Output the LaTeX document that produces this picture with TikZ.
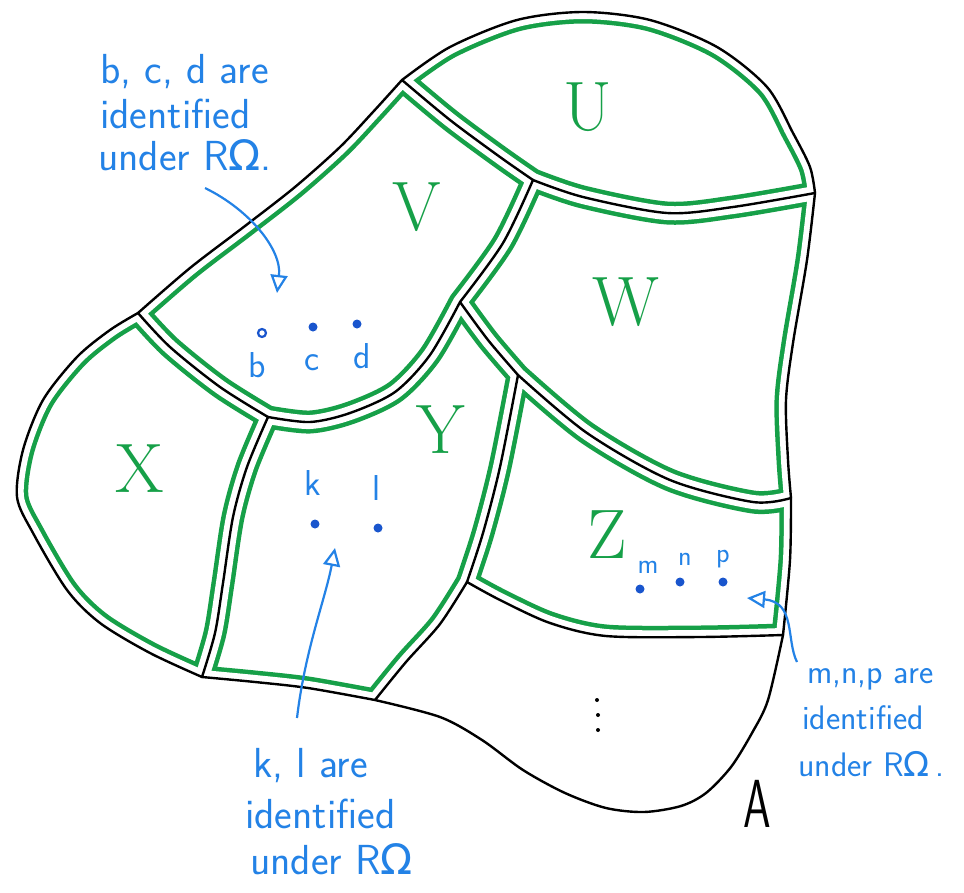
\documentclass[tikz,border=0pt]{standalone}
\usepackage{fontspec}
\newfontfamily\omf{DejaVu Sans}
\usetikzlibrary{arrows.meta}
\definecolor{mkgreen}{RGB}{22,160,72}
\definecolor{mkblue}{RGB}{35,130,230}
\definecolor{dotblue}{RGB}{25,85,205}
\def\sgTop{(402,80) (450,47) (517,20) (583,12) (650,20) (717,47) (767,87) (793,133) (810,167) (815,193)}
\def\sgRa{(815,193) (807,260) (793,343) (786,400) (788,460) (791,498)}
\def\sgRb{(791,498) (790,560) (783,635)}
\def\sgRc{(783,635) (768,700) (752,733) (731,767) (706,793) (681,806) (644,812) (606,808) (565,793) (523,770) (482,740) (440,717) (375,700)}
\def\sgBot{(375,700) (308,688) (255,682) (202,677)}
\def\sgLeft{(202,677) (150,653) (100,623) (67,590) (33,533) (17,497) (23,450) (43,400) (77,357) (110,330) (138,313)}
\def\sgUL{(138,313) (190,268) (245,226) (295,187) (340,147) (373,112) (402,80)}
\def\sgUV{(402,80) (450,120) (500,157) (533,180)}
\def\sgUVr{(533,180) (500,157) (450,120) (402,80)}
\def\sgUW{(533,180) (583,197) (667,213) (733,207) (815,193)}
\def\sgUWr{(815,193) (733,207) (667,213) (583,197) (533,180)}
\def\sgVW{(533,180) (503,243) (460,302)}
\def\sgVWr{(460,302) (503,243) (533,180)}
\def\sgVY{(460,302) (430,355) (395,392) (350,413) (310,422) (268,417)}
\def\sgVYr{(268,417) (310,422) (350,413) (395,392) (430,355) (460,302)}
\def\sgVX{(268,417) (220,387) (170,347) (138,313)}
\def\sgVXr{(138,313) (170,347) (220,387) (268,417)}
\def\sgWY{(460,302) (488,340) (518,375)}
\def\sgWYr{(518,375) (488,340) (460,302)}
\def\sgWZ{(518,375) (587,433) (670,480) (753,502) (791,498)}
\def\sgWZr{(791,498) (753,502) (670,480) (587,433) (518,375)}
\def\sgYZ{(518,375) (500,467) (483,533) (467,582)}
\def\sgYZr{(467,582) (483,533) (500,467) (518,375)}
\def\sgYb{(467,582) (440,624) (406,662) (375,700)}
\def\sgZb{(467,582) (500,600) (550,623) (606,636) (700,637) (783,635)}
\def\sgZbr{(783,635) (700,637) (606,636) (550,623) (500,600) (467,582)}
\def\sgXY{(268,417) (247,467) (233,517) (223,583) (215,633) (202,677)}
\def\sgXYr{(202,677) (215,633) (223,583) (233,517) (247,467) (268,417)}
\def\pl#1{plot[smooth] coordinates{#1}}
\edef\rgU{\pl{\sgTop} -- \pl{\sgUWr} -- \pl{\sgUVr} -- cycle}
\edef\rgV{\pl{\sgUV} -- \pl{\sgVW} -- \pl{\sgVY} -- \pl{\sgVX} -- \pl{\sgUL} -- cycle}
\edef\rgW{\pl{\sgUW} -- \pl{\sgRa} -- \pl{\sgWZr} -- \pl{\sgWYr} -- \pl{\sgVWr} -- cycle}
\edef\rgX{\pl{\sgVXr} -- \pl{\sgXY} -- \pl{\sgLeft} -- cycle}
\edef\rgY{\pl{\sgVYr} -- \pl{\sgWY} -- \pl{\sgYZ} -- \pl{\sgYb} -- \pl{\sgBot} -- \pl{\sgXYr} -- cycle}
\edef\rgZ{\pl{\sgWZ} -- \pl{\sgRb} -- \pl{\sgZbr} -- \pl{\sgYZr} -- cycle}
\newcommand\greenband[1]{\begin{scope}\clip #1; \draw[gband] #1; \draw[wband] #1;\end{scope}}
\begin{document}
\begin{tikzpicture}[x=1pt,y=-1pt,
  gband/.style={draw=mkgreen,line width=23pt,line join=round},
  wband/.style={draw=white,line width=14pt,line join=round},
  blk/.style={draw=black,line width=2.4pt,line cap=round,line join=round},
  reg/.style={text=mkgreen,font=\fontsize{70}{70}\selectfont,inner sep=0pt},
  ann/.style={text=mkblue,font=\sffamily\fontsize{42}{48}\selectfont,inner sep=0pt,anchor=base west},
  annsm/.style={text=mkblue,font=\sffamily\fontsize{34}{40}\selectfont,inner sep=0pt,anchor=base west},
  lbl/.style={text=mkblue,font=\sffamily\fontsize{36}{40}\selectfont,inner sep=0pt,anchor=base},
  lblsm/.style={text=mkblue,font=\sffamily\fontsize{28}{30}\selectfont,inner sep=0pt,anchor=base},
  pt/.style={circle,fill=dotblue,inner sep=0pt,minimum size=9pt},
  ptopen/.style={circle,draw=dotblue,line width=2.2pt,inner sep=0pt,minimum size=8pt},
  arr/.style={draw=mkblue,line width=2.2pt,-{Triangle[open,length=18pt,width=17pt,line width=2.2pt]}}]
\fill[white] (0,0) rectangle (964,892);
\useasboundingbox (0,0) rectangle (964,892);
% green inner outlines
\greenband{\rgU}
\greenband{\rgV}
\greenband{\rgW}
\greenband{\rgX}
\greenband{\rgY}
\greenband{\rgZ}
% black boundaries
\draw[blk] \pl{\sgTop};
\draw[blk] \pl{\sgRa};
\draw[blk] \pl{\sgRb};
\draw[blk] \pl{\sgRc};
\draw[blk] \pl{\sgBot};
\draw[blk] \pl{\sgLeft};
\draw[blk] \pl{\sgUL};
\draw[blk] \pl{\sgUV};
\draw[blk] \pl{\sgUW};
\draw[blk] \pl{\sgVW};
\draw[blk] \pl{\sgVY};
\draw[blk] \pl{\sgVX};
\draw[blk] \pl{\sgWY};
\draw[blk] \pl{\sgWZ};
\draw[blk] \pl{\sgYZ};
\draw[blk] \pl{\sgYb};
\draw[blk] \pl{\sgZb};
\draw[blk] \pl{\sgXY};
% region letters
\node[reg] (lU) at (588,107) {U};
\node[reg] (lV) at (417,207) {V};
\node[reg] (lW) at (626,302) {W};
\node[reg] (lX) at (140,469) {X};
\node[reg] (lY) at (441,430) {Y};
\node[reg] (lZ) at (607,535) {Z};
\node[font=\sffamily\fontsize{68}{70}\selectfont,inner sep=0pt] (lA) at (757,804) {\scalebox{0.65}[1]{A}};
% vertical dots
\fill (597,700) circle (2pt) (598,715) circle (2pt) (598,730) circle (2pt);
% points b c d
\node[ptopen] (db) at (262,333) {};
\node[pt] (dc) at (313,327) {};
\node[pt] (dd) at (357,324) {};
\node[lbl] (tb) at (257,377) {b};
\node[lbl] (tc) at (312,370) {c};
\node[lbl] (td) at (362,368) {d};
% points k l
\node[pt] (dk) at (315,524) {};
\node[pt] (dl) at (378,528) {};
\node[lbl] (tk) at (313,495) {k};
\node[lbl] (tl) at (377,500) {l};
% points m n p
\node[pt] (dm) at (640,589) {};
\node[pt] (dn) at (680,582) {};
\node[pt] (dp) at (723,582) {};
\node[lblsm] (tm) at (648,573) {m};
\node[lblsm] (tn) at (685,565) {n};
\node[lblsm] (tp) at (723,562) {p};
% annotations
\node[ann] (a1) at (100,83) {b, c, d are};
\node[ann] (a2) at (100,128) {identified};
\node[ann] (a3) at (98,170) {under R{\omf Ω}.};
\node[ann] (b1) at (253,777) {k, l are};
\node[ann] (b2) at (245,828) {identified};
\node[ann] (b3) at (250,874) {under R{\omf Ω}};
\node[annsm] (c1) at (807,683) {m,n,p are};
\node[annsm] (c2) at (802,729) {identified};
\node[annsm] (c3) at (798,776) {under R{\omf Ω}\,.};
% arrows
\coordinate (s1) at (205,188);
\coordinate (e1) at (277,293);
\coordinate (s2) at (297,718);
\coordinate (e2) at (335,548);
\coordinate (s3) at (797,662);
\coordinate (e3) at (747,598);
\draw[arr] (s1) .. controls (250,210) and (282,250) .. (e1);
\draw[arr] (s2) .. controls (305,650) and (325,600) .. (e2);
\draw[arr] (s3) .. controls (786,640) and (796,602) .. (e3);
\end{tikzpicture}
\end{document}
